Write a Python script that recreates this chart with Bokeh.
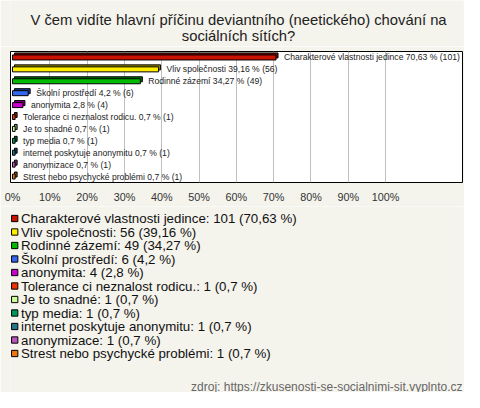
from bokeh.plotting import figure
from bokeh.models import Range1d, FixedTicker, LabelSet, ColumnDataSource
from bokeh.layouts import column
from bokeh.core.properties import value
from bokeh.embed import file_html
from bokeh.resources import INLINE

# ---------------- data ----------------
title_lines = ["V čem vidíte hlavní příčinu deviantního (neetického) chování na",
               "sociálních sítích?"]
categories = ["Charakterové vlastnosti jedince", "Vliv společnosti", "Rodinné zázemí",
              "Školní prostředí", "anonymita", "Tolerance ci neznalost rodicu.",
              "Je to snadné", "typ media", "internet poskytuje anonymitu",
              "anonymizace", "Strest nebo psychycké problémi"]
counts = [101, 56, 49, 6, 4, 1, 1, 1, 1, 1, 1]
percents = [70.63, 39.16, 34.27, 4.2, 2.8, 0.7, 0.7, 0.7, 0.7, 0.7, 0.7]
colors = ["#cc1100", "#ffee00", "#00bb00", "#3366ee", "#cc00cc", "#ee3300",
          "#ccff99", "#009955", "#227788", "#bb55bb", "#ee7711"]
tick_values = [0, 10, 20, 30, 40, 50, 60, 70, 80, 90, 100]
source_text = "zdroj: https://zkusenosti-se-socialnimi-sit.vyplnto.cz"

FONT = "Liberation Sans"
BG = "#f4f3ec"
W = 464
LEFT = 10
FRAME_W = 452
RIGHT = W - LEFT - FRAME_W


def darker(hexc, f=0.6):
    r, g, b = int(hexc[1:3], 16), int(hexc[3:5], 16), int(hexc[5:7], 16)
    return "#%02x%02x%02x" % (int(r * f), int(g * f), int(b * f))


def pct_str(v):
    return str(v).replace(".", ",")


rows = list(range(len(categories)))
bar_labels = [f"{c} {pct_str(p)} % ({n})" for c, p, n in zip(categories, percents, counts)]
legend_labels = [f"{c}: {n} ({pct_str(p)} %)" for c, p, n in zip(categories, percents, counts)]


def side_fig(height, y_range):
    f = figure(width=W, height=height, output_backend="svg", toolbar_location=None,
               x_range=Range1d(LEFT, LEFT + FRAME_W), y_range=y_range,
               min_border_left=LEFT, min_border_right=RIGHT,
               min_border_top=0, min_border_bottom=0,
               x_axis_location=None, y_axis_location=None)
    f.background_fill_color = BG
    f.border_fill_color = BG
    f.outline_line_color = None
    f.grid.visible = False
    return f


# ---------------- title ----------------
H0 = 46
p0 = side_fig(H0, Range1d(H0, 0))
p0.text(x=[238, 238], y=[19.5, 35.5], text=title_lines, text_font=value(FONT),
        text_font_size="14.8px", text_color="#222222", text_align="center",
        text_baseline="middle")

# ---------------- bar chart ----------------
px_per_unit = 3.731
x0 = -2 / px_per_unit
frame_h = 131
p1 = figure(width=W, height=5 + frame_h + 24, output_backend="svg", toolbar_location=None,
            x_range=Range1d(x0, x0 + FRAME_W / px_per_unit), y_range=Range1d(10.5, -0.5),
            min_border_left=LEFT, min_border_right=RIGHT, min_border_top=5,
            min_border_bottom=24, y_axis_location=None)
p1.background_fill_color = "#ffffff"
p1.border_fill_color = BG
p1.outline_line_color = "black"
p1.outline_line_width = 1
p1.ygrid.visible = False
p1.xgrid.ticker = FixedTicker(ticks=tick_values[1:])
p1.xgrid.grid_line_color = "#c0c0c0"

ax = p1.xaxis[0]
ax.ticker = FixedTicker(ticks=tick_values)
ax.major_label_overrides = {t: f"{t}%" for t in tick_values}
ax.axis_line_color = None
ax.major_tick_line_color = None
ax.minor_tick_line_color = None
ax.major_tick_out = 0
ax.major_label_standoff = 8
ax.major_label_text_font = FONT
ax.major_label_text_font_size = "10.8px"
ax.major_label_text_color = "#333333"

row_px = frame_h / 11
dx = 2 / px_per_unit     # 3D depth offsets
dy = 2 / row_px
h = 5 / row_px
src = ColumnDataSource(dict(
    y=rows, y_back=[r - dy for r in rows],
    right=percents, right_back=[p + dx for p in percents],
    left_back=[dx] * len(rows),
    color=colors, dark=[darker(c) for c in colors], label=bar_labels))

p1.hbar(y="y_back", left="left_back", right="right_back", height=h, source=src,
        fill_color="dark", line_color="black", line_width=1)
p1.hbar(y="y", left=0, right="right", height=h, source=src,
        fill_color="color", line_color="black", line_width=1)

p1.add_layout(LabelSet(x="right", y="y", text="label", source=src, x_offset=8,
                       text_font=value(FONT), text_font_size="8.6px",
                       text_color="#222222", text_baseline="middle"))

# ---------------- legend ----------------
y_off = H0 + 5 + frame_h + 24
H2 = 392 - y_off
step = 13.5
first = 218.0 - y_off
top = -first / step
p2 = side_fig(H2, Range1d(top + H2 / step, top))

lsrc = ColumnDataSource(dict(y=rows, color=colors, label=legend_labels))
p2.scatter(x=14.2, y="y", marker="square", size=6.3, source=lsrc,
           fill_color="color", line_color="black", line_width=1)
p2.text(x=20.5, y="y", text="label", source=lsrc, text_font=value(FONT),
        text_font_size="13.3px", text_color="#111111", text_baseline="middle")
p2.text(x=[462], y=[(386 - 218.0) / step], text=[source_text], text_font=value(FONT),
        text_font_size="12px", text_color="#666666", text_baseline="middle",
        text_align="right")

layout = column(p0, p1, p2, spacing=0)
open("out.html", "w").write(file_html(layout, INLINE))
